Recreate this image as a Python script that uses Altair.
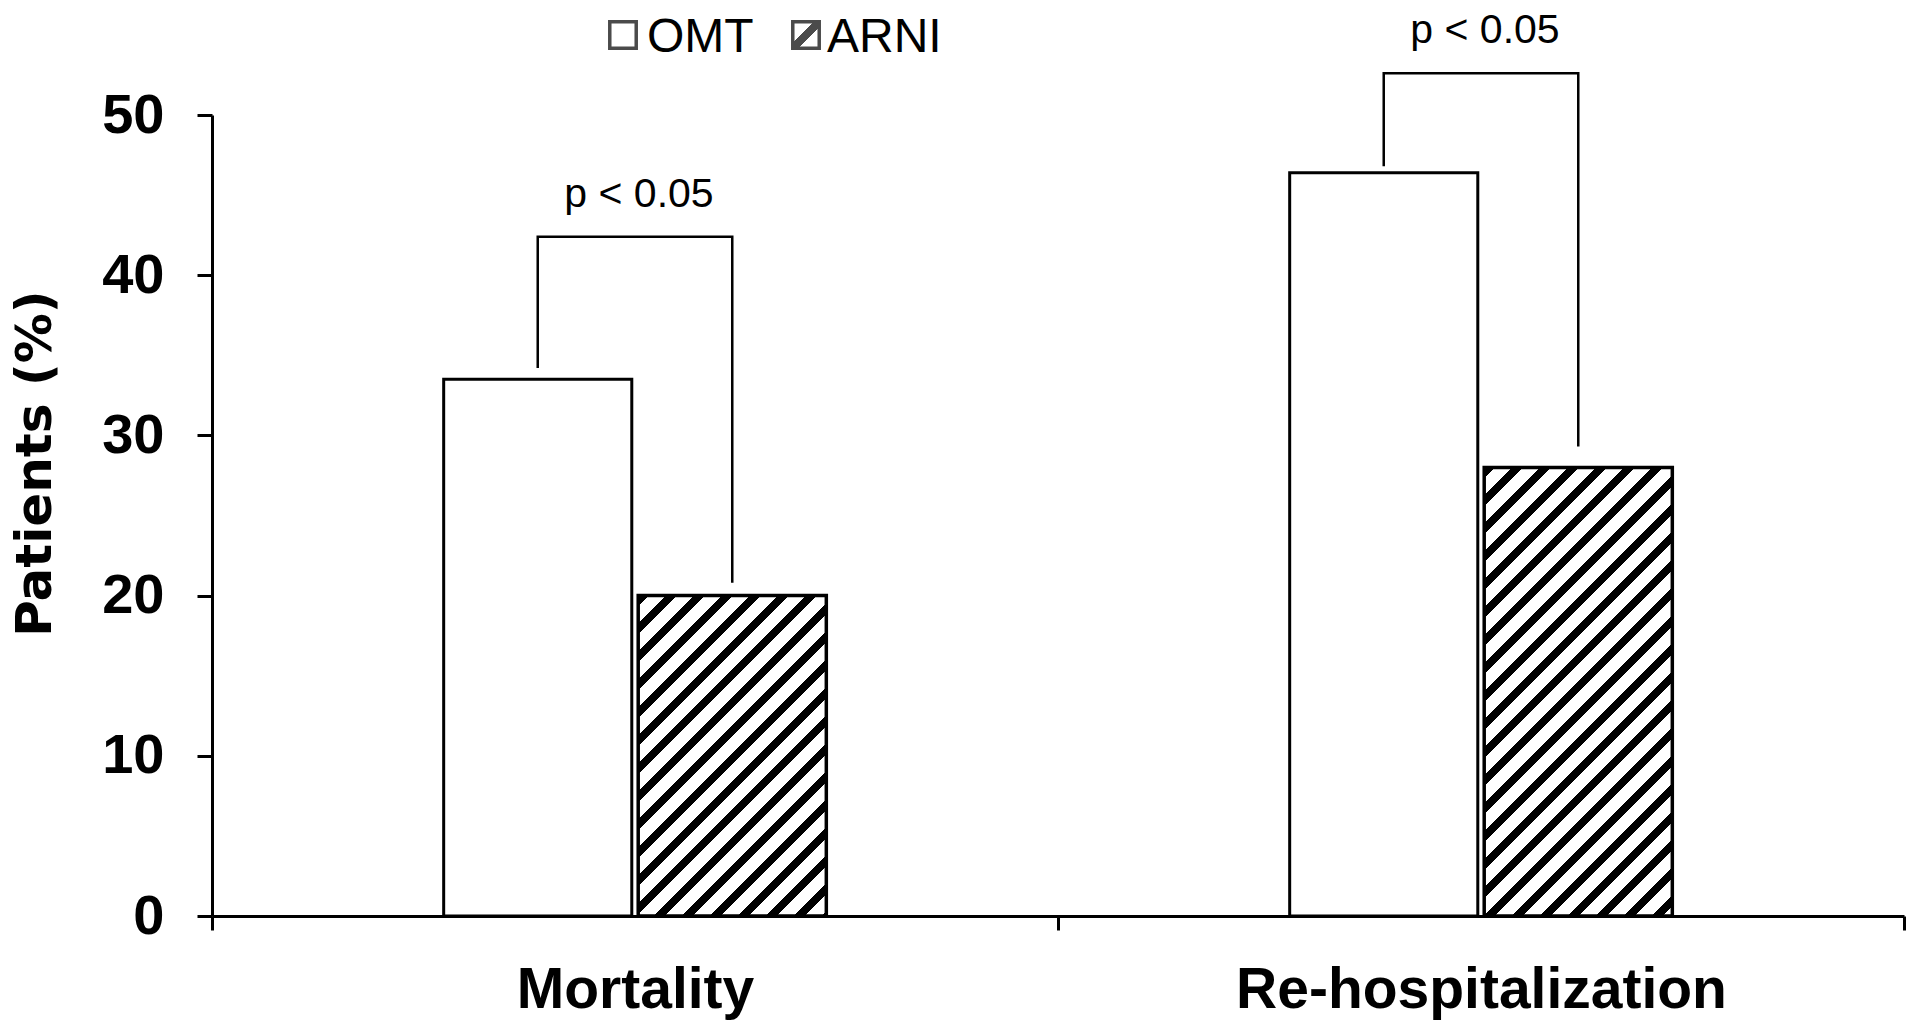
import math
import altair as alt
import pandas as pd

# ---------------- data ----------------
categories = ["Mortality", "Re-hospitalization"]
series = ["OMT", "ARNI"]
omt_values = [33.5, 46.4]
arni_values = [20.0, 28.0]
bracket_top = [42.4, 52.6]
omt_leg_bottom = [34.2, 46.8]
arni_leg_bottom = [20.8, 29.3]
p_labels = ["p < 0.05", "p < 0.05"]
y_ticks = [0, 10, 20, 30, 40, 50]

# ---------------- layout ----------------
W, H = 1692, 801
Y_MAX = 50
offset_domain = ["_left", "OMT", "ARNI", "_right"]
OFF_PAD_IN = 0.033
OFF_PAD_OUT = 0.191

band = W / len(categories)
step = band / (len(offset_domain) - OFF_PAD_IN + 2 * OFF_PAD_OUT)
bar_w = step * (1 - OFF_PAD_IN)
px_per_unit = H / Y_MAX


def hatch(w, h, period=28.0, ink=0.38):
    """Linear gradient that draws '/' stripes at 45 deg inside a w x h box."""
    s = w + h
    k = s / (w * w + h * h)
    P = period / s
    stops = []
    i = 0
    while i * P < 1:
        a = i * P
        e = min(a + ink * P, 1.0)
        b = min(a + P, 1.0)
        stops += [
            {"offset": a, "color": "black"},
            {"offset": e, "color": "black"},
            {"offset": e, "color": "white"},
            {"offset": b, "color": "white"},
        ]
        i += 1
    return {"gradient": "linear", "x1": 0, "y1": 0,
            "x2": w * k, "y2": h * k, "stops": stops}


legend_grad = {"gradient": "linear", "x1": 0, "y1": 0, "x2": 1, "y2": 1,
               "stops": [{"offset": 0, "color": "white"},
                         {"offset": 0.4, "color": "white"},
                         {"offset": 0.4, "color": "black"},
                         {"offset": 0.6, "color": "black"},
                         {"offset": 0.6, "color": "white"},
                         {"offset": 1, "color": "white"}]}

# ---------------- tables ----------------
bars = pd.DataFrame(
    [{"category": c, "series": "OMT", "value": v} for c, v in zip(categories, omt_values)]
    + [{"category": c, "series": "ARNI", "value": v} for c, v in zip(categories, arni_values)]
)

brk_rows = []
for c, t, lo, ro in zip(categories, bracket_top, omt_leg_bottom, arni_leg_bottom):
    brk_rows += [
        {"category": c, "series": "OMT", "value": lo, "step": 0},
        {"category": c, "series": "OMT", "value": t, "step": 1},
        {"category": c, "series": "ARNI", "value": t, "step": 2},
        {"category": c, "series": "ARNI", "value": ro, "step": 3},
    ]
brackets = pd.DataFrame(brk_rows)

ptext = pd.DataFrame({"category": categories, "value": bracket_top, "label": p_labels})

# ---------------- encodings ----------------
x_enc = alt.X(
    "category:N",
    scale=alt.Scale(domain=categories, paddingInner=0, paddingOuter=0),
    axis=alt.Axis(
        title=None, labelAngle=0, tickBand="extent", labelLimit=0,
        labelFont="Liberation Sans", labelFontSize=57, labelFontWeight="bold",
        labelColor="black", labelBaseline="alphabetic", labelPadding=77,
        tickSize=14, tickWidth=3, tickColor="black",
        domainColor="black", domainWidth=3,
    ),
)
xo_enc = alt.XOffset(
    "series:N",
    scale=alt.Scale(domain=offset_domain, paddingInner=OFF_PAD_IN, paddingOuter=OFF_PAD_OUT),
)
y_enc = alt.Y(
    "value:Q",
    scale=alt.Scale(domain=[0, Y_MAX], nice=False, zero=True),
    axis=alt.Axis(
        values=y_ticks, grid=False, title="Patients (%)",
        labelFont="Liberation Sans", labelFontSize=56, labelFontWeight="bold",
        labelColor="black", labelPadding=33,
        tickSize=15, tickWidth=3, tickColor="black",
        domainColor="black", domainWidth=3,
        titleFont="DejaVu Sans", titleFontSize=50, titleFontWeight="bold",
        titleColor="black", titleAngle=270, titleAlign="center",
        titleBaseline="alphabetic", titleX=-162, titleY=348, titleLimit=0,
    ),
)

base = alt.Chart(bars)

omt_layer = base.transform_filter(alt.datum.series == "OMT").mark_bar(
    fill="white", stroke="black", strokeWidth=3
).encode(x=x_enc, xOffset=xo_enc, y=y_enc)

arni_layers = []
for c, v in zip(categories, arni_values):
    g = hatch(bar_w, v * px_per_unit)
    arni_layers.append(
        base.transform_filter(
            (alt.datum.series == "ARNI") & (alt.datum.category == c)
        ).mark_bar(fill=g, stroke="black", strokeWidth=3.5)
        .encode(x=x_enc, xOffset=xo_enc, y=y_enc)
    )

bracket_layer = alt.Chart(brackets).mark_line(
    color="black", strokeWidth=2.5
).encode(
    x=x_enc, xOffset=xo_enc, y=y_enc,
    detail="category:N", order=alt.Order("step:Q"),
)

text_layer = alt.Chart(ptext).mark_text(
    font="Liberation Sans", fontSize=41, color="black",
    baseline="alphabetic", align="center", dy=-30, dx=4,
).encode(x=x_enc, y=y_enc, text="label:N")

# ---------------- custom legend ----------------
leg_df = pd.DataFrame({"label": ["x"]})
leg_omt_sq = alt.Chart(leg_df).mark_square(
    size=700, filled=True, fill="white", stroke="black", strokeWidth=3.5
).encode(x=alt.value(411), y=alt.value(-80))
leg_arni_sq = alt.Chart(leg_df).mark_square(
    size=700, filled=True, fill=legend_grad, stroke="black", strokeWidth=3.5
).encode(x=alt.value(594), y=alt.value(-80))
leg_omt_tx = alt.Chart(pd.DataFrame({"label": [series[0]]})).mark_text(
    font="Liberation Sans", fontSize=48, color="black", align="left", baseline="alphabetic"
).encode(x=alt.value(435), y=alt.value(-63), text="label:N")
leg_arni_tx = alt.Chart(pd.DataFrame({"label": [series[1]]})).mark_text(
    font="Liberation Sans", fontSize=48, color="black", align="left", baseline="alphabetic"
).encode(x=alt.value(615), y=alt.value(-63), text="label:N")

chart = alt.layer(
    omt_layer, *arni_layers, bracket_layer, text_layer,
    leg_omt_sq, leg_arni_sq, leg_omt_tx, leg_arni_tx,
).properties(
    width=W, height=H,
    autosize=alt.AutoSizeParams(type="none"),
    padding={"left": 204, "top": 107, "right": 8, "bottom": 109},
    background="white",
).configure_view(stroke=None)

chart.save("out.html", embed_options={"renderer": "svg", "actions": False})
